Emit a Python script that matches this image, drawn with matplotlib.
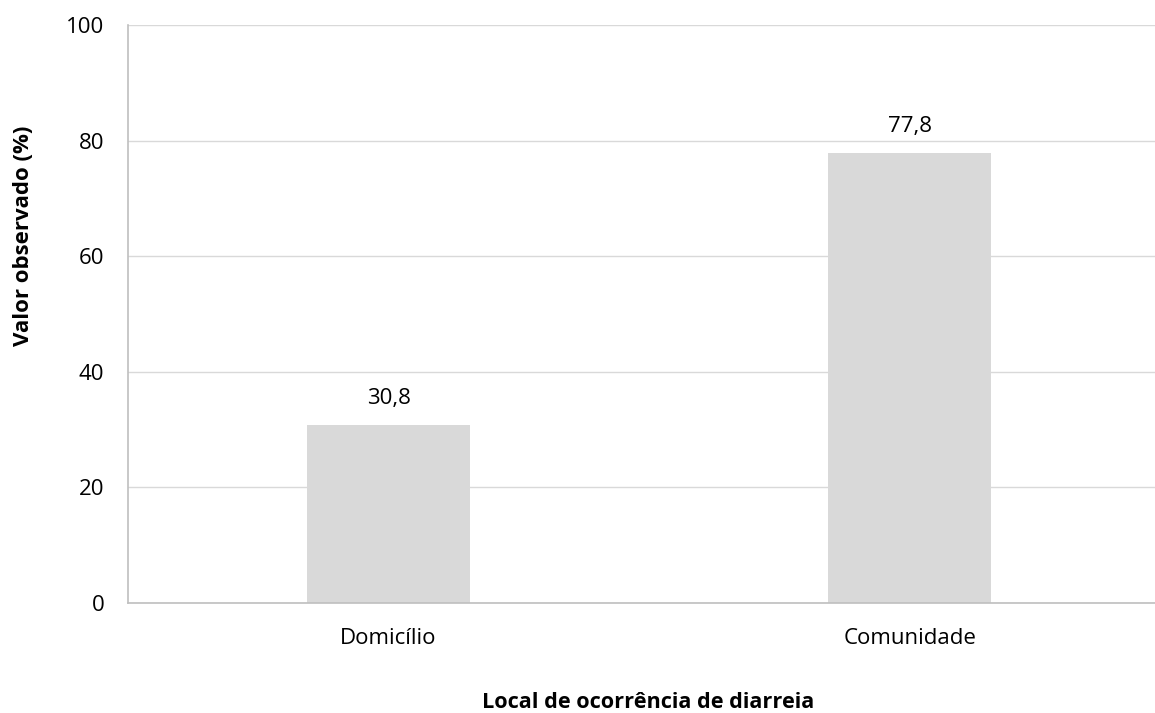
import matplotlib
matplotlib.use('Agg')
import matplotlib.pyplot as plt
import numpy as np

# dados
categorias = ['Domicílio', 'Comunidade']
valores = [30.8, 77.8]
rotulos = ['30,8', '77,8']
yticks = [0, 20, 40, 60, 80, 100]

plt.rcParams['font.family'] = ['Open Sans', 'DejaVu Sans']

fig = plt.figure(figsize=(11.55, 7.13), dpi=100)
ax = fig.add_axes([128 / 1155, 110 / 713, 1 - 128 / 1155, (603 - 25) / 713])

x = np.arange(len(categorias))
ax.bar(x, valores, width=0.313, color='#d9d9d9', zorder=2)
for xi, v, r in zip(x, valores, rotulos):
    ax.text(xi, v + 4.6, r, ha='center', va='center', fontsize=16, color='black')

ax.set_xlim(-0.5, 1.471)
ax.set_ylim(0, 100)
ax.set_yticks(yticks)
ax.set_xticks(x)
ax.set_xticklabels(categorias)
ax.tick_params(axis='both', length=0, labelsize=16, colors='black')
ax.tick_params(axis='x', pad=18)
ax.tick_params(axis='y', pad=17)
ax.grid(axis='y', color='#d9d9d9', linewidth=1.0, zorder=0)
for s in ['top', 'right']:
    ax.spines[s].set_visible(False)
ax.spines['left'].set_color('#bfbfbf')
ax.spines['bottom'].set_color('#bfbfbf')
ax.spines['left'].set_linewidth(1.2)
ax.spines['bottom'].set_linewidth(1.2)

ax.set_ylabel('Valor observado (%)', fontsize=16, fontweight='bold')
ax.yaxis.set_label_coords((34 - 128) / 1027, (603 - 236) / 578)
fig.text(648 / 1155, 1 - 702 / 713, 'Local de ocorrência de diarreia',
         ha='center', va='center', fontsize=15.6, fontweight='bold')

fig.savefig('out.png', dpi=100)
